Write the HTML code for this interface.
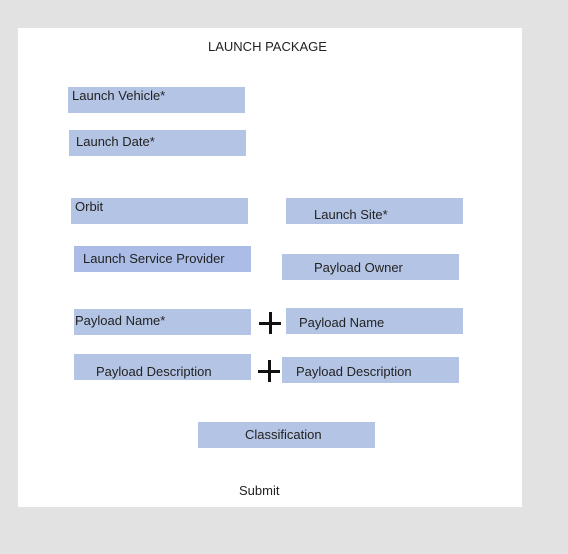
<!DOCTYPE html><html><head><style>
body{margin:0;width:568px;height:554px;background:#e2e2e2;position:relative;overflow:hidden;font-family:"Liberation Sans",sans-serif;font-size:13px;color:#222}
.p{position:absolute;left:18px;top:28px;width:504px;height:479px;background:#fff}
.b{position:absolute;width:177px;height:26px;background:#b4c4e4;box-sizing:border-box;white-space:nowrap}
.t{position:absolute;white-space:nowrap}
.h,.v{position:absolute;background:#111}
</style></head><body>
<div class="p"></div>
<div class="t" style="left:208px;top:39px">LAUNCH PACKAGE</div>
<div class="b" style="left:68px;top:87px;padding:1px 0 0 4px">Launch Vehicle*</div>
<div class="b" style="left:69px;top:130px;padding:4px 0 0 7px">Launch Date*</div>
<div class="b" style="left:71px;top:198px;padding:1px 0 0 4px">Orbit</div>
<div class="b" style="left:74px;top:246px;padding:5px 0 0 9px;background:#abbde6">Launch Service Provider</div>
<div class="b" style="left:286px;top:198px;padding:9px 0 0 28px">Launch Site*</div>
<div class="b" style="left:282px;top:254px;padding:6px 0 0 32px">Payload Owner</div>
<div class="b" style="left:74px;top:309px;padding:4px 0 0 1px">Payload Name*</div>
<div class="b" style="left:286px;top:308px;padding:7px 0 0 13px">Payload Name</div>
<div class="b" style="left:74px;top:354px;padding:10px 0 0 22px">Payload Description</div>
<div class="b" style="left:282px;top:357px;padding:7px 0 0 14px">Payload Description</div>
<div class="b" style="left:198px;top:422px;padding:5px 0 0 47px">Classification</div>
<div class="h" style="left:259px;top:322px;width:22px;height:3px"></div>
<div class="v" style="left:269px;top:312px;width:3px;height:22px"></div>
<div class="h" style="left:258px;top:370px;width:22px;height:3px"></div>
<div class="v" style="left:268px;top:360px;width:3px;height:22px"></div>
<div class="t" style="left:239px;top:483px">Submit</div>
</body></html>
